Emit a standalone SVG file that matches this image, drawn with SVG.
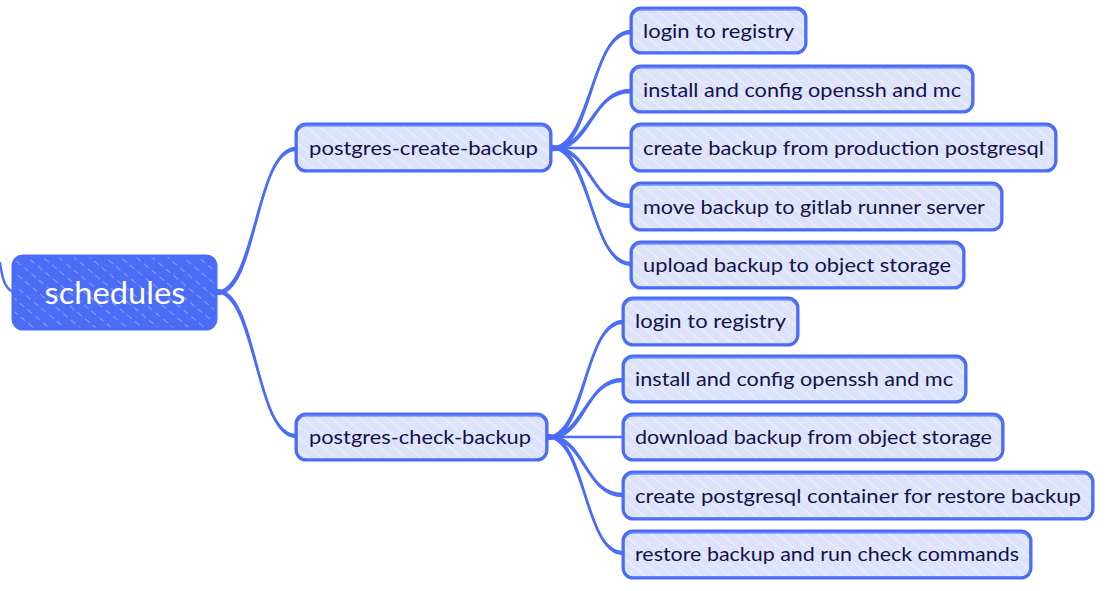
<svg xmlns="http://www.w3.org/2000/svg" width="1107" height="591" viewBox="0 0 1107 591">
<defs>
<pattern id="hatchL" patternUnits="userSpaceOnUse" width="9" height="9" patternTransform="rotate(-50)">
<rect width="9" height="9" fill="#dde3fb"/>
<line x1="0" y1="0" x2="0" y2="9" stroke="#ffffff" stroke-width="1.2" stroke-opacity="0.8"/>
</pattern>
<pattern id="hatchR" patternUnits="userSpaceOnUse" width="10" height="10" patternTransform="rotate(-50)">
<rect width="10" height="10" fill="#4a6cf7"/>
<line x1="0" y1="0" x2="0" y2="10" stroke="#ffffff" stroke-width="1" stroke-opacity="0.75" stroke-dasharray="6 9"/>
</pattern>
<style>
.c{fill:none;stroke:#4a6cf7;stroke-width:2.4;stroke-linecap:round}
.n{fill:url(#hatchL);stroke:#4a6cf7;stroke-width:3}
.n2{fill:none;stroke:#4a6cf7;stroke-width:1.2}
.r{fill:url(#hatchR);stroke:#4a6cf7;stroke-width:3}
.t{font-family:Lato,"Open Sans",sans-serif;font-size:19px;fill:#12124a}
.rt{font-family:Lato,"Open Sans",sans-serif;font-size:30px;fill:#ffffff}
</style>
</defs>
<rect width="1107" height="591" fill="#ffffff"/>
<g id="connectors">
<path class="c" d="M13 292 C4 288 2 276 0 263"/>
<path class="c" d="M216 292 C256 292 256 148 296 148"/>
<path class="c" d="M217 294 C258 293 254 150 296 150"/>
<path class="c" d="M216 292 C256 292 256 437 296 437"/>
<path class="c" d="M217 290 C258 292 254 435 296 435"/>
<path class="c" d="M551 148 C591 148 591 31 631 31"/>
<path class="c" d="M552 150 C593 149 589 33 631 33"/>
<path class="c" d="M551 148 C591 148 591 90 631 90"/>
<path class="c" d="M552 150 C593 149 589 92 631 92"/>
<path class="c" d="M551 148 L631 148"/>
<path class="c" d="M551 148 C591 148 591 207 631 207"/>
<path class="c" d="M552 146 C593 149 589 205 631 205"/>
<path class="c" d="M551 148 C591 148 591 265 631 265"/>
<path class="c" d="M552 146 C593 149 589 263 631 263"/>
<path class="c" d="M547 437 C585 437 585 321 623 321"/>
<path class="c" d="M548 439 C587 438 583 323 623 323"/>
<path class="c" d="M547 437 C585 437 585 379 623 379"/>
<path class="c" d="M548 439 C587 438 583 381 623 381"/>
<path class="c" d="M547 437 L623 437"/>
<path class="c" d="M547 437 C585 437 585 496 623 496"/>
<path class="c" d="M548 435 C587 438 583 494 623 494"/>
<path class="c" d="M547 437 C585 437 585 554 623 554"/>
<path class="c" d="M548 435 C587 438 583 552 623 552"/>
</g>
<g id="root">
<rect class="r" x="13" y="256" width="203" height="73" rx="10"/>
<text class="rt" x="115" y="304" text-anchor="middle" textLength="141" lengthAdjust="spacingAndGlyphs">schedules</text>
</g>
<g id="create">
<rect class="n" x="296" y="124" width="255" height="47" rx="10"/>
<rect class="n2" x="297" y="126" width="253" height="44" rx="9"/>
<text class="t" x="309" y="155" textLength="229" lengthAdjust="spacingAndGlyphs">postgres-create-backup</text>
</g>
<g id="check">
<rect class="n" x="296" y="414" width="251" height="46" rx="10"/>
<rect class="n2" x="297" y="416" width="249" height="43" rx="9"/>
<text class="t" x="309" y="444" textLength="222" lengthAdjust="spacingAndGlyphs">postgres-check-backup</text>
</g>
<g id="c1">
<rect class="n" x="631" y="8" width="175" height="45" rx="10"/>
<rect class="n2" x="632" y="10" width="173" height="42" rx="9"/>
<text class="t" x="643" y="38" textLength="151" lengthAdjust="spacingAndGlyphs">login to registry</text>
</g>
<g id="c2">
<rect class="n" x="631" y="66" width="342" height="46" rx="10"/>
<rect class="n2" x="632" y="68" width="340" height="43" rx="9"/>
<text class="t" x="643" y="97" textLength="318" lengthAdjust="spacingAndGlyphs">install and config openssh and mc</text>
</g>
<g id="c3">
<rect class="n" x="631" y="124" width="425" height="47" rx="10"/>
<rect class="n2" x="632" y="126" width="423" height="44" rx="9"/>
<text class="t" x="643" y="155" textLength="401" lengthAdjust="spacingAndGlyphs">create backup from production postgresql</text>
</g>
<g id="c4">
<rect class="n" x="631" y="183" width="371" height="47" rx="10"/>
<rect class="n2" x="632" y="185" width="369" height="44" rx="9"/>
<text class="t" x="643" y="214" textLength="342" lengthAdjust="spacingAndGlyphs">move backup to gitlab runner server</text>
</g>
<g id="c5">
<rect class="n" x="631" y="242" width="333" height="46" rx="10"/>
<rect class="n2" x="632" y="244" width="331" height="43" rx="9"/>
<text class="t" x="643" y="272" textLength="308" lengthAdjust="spacingAndGlyphs">upload backup to object storage</text>
</g>
<g id="k1">
<rect class="n" x="623" y="298" width="175" height="47" rx="10"/>
<rect class="n2" x="624" y="300" width="173" height="44" rx="9"/>
<text class="t" x="635" y="328" textLength="151" lengthAdjust="spacingAndGlyphs">login to registry</text>
</g>
<g id="k2">
<rect class="n" x="623" y="356" width="343" height="46" rx="10"/>
<rect class="n2" x="624" y="358" width="341" height="43" rx="9"/>
<text class="t" x="635" y="386" textLength="318" lengthAdjust="spacingAndGlyphs">install and config openssh and mc</text>
</g>
<g id="k3">
<rect class="n" x="623" y="414" width="380" height="46" rx="10"/>
<rect class="n2" x="624" y="416" width="378" height="43" rx="9"/>
<text class="t" x="635" y="444" textLength="357" lengthAdjust="spacingAndGlyphs">download backup from object storage</text>
</g>
<g id="k4">
<rect class="n" x="623" y="472" width="470" height="47" rx="10"/>
<rect class="n2" x="624" y="474" width="468" height="44" rx="9"/>
<text class="t" x="635" y="503" textLength="446" lengthAdjust="spacingAndGlyphs">create postgresql container for restore backup</text>
</g>
<g id="k5">
<rect class="n" x="623" y="531" width="408" height="47" rx="10"/>
<rect class="n2" x="624" y="533" width="406" height="44" rx="9"/>
<text class="t" x="635" y="561" textLength="384" lengthAdjust="spacingAndGlyphs">restore backup and run check commands</text>
</g>
</svg>
